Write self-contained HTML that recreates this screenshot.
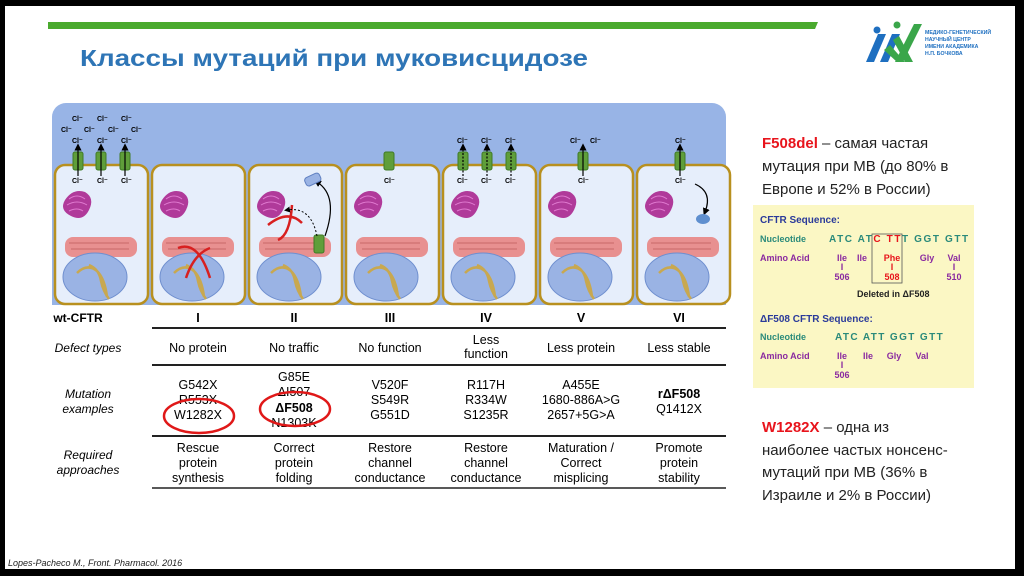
<!DOCTYPE html>
<html><head><meta charset="utf-8"><style>
html,body{margin:0;padding:0;background:#000;}
svg{display:block}
text{font-family:"Liberation Sans",Arial,sans-serif}
</style></head><body>
<svg width="1024" height="576" viewBox="0 0 1024 576" xmlns="http://www.w3.org/2000/svg">
<rect x="0" y="0" width="1024" height="576" fill="#000"/>
<rect x="5" y="6" width="1010" height="563" fill="#fff"/>
<polygon points="48,22 818,22 815,29 48,29" fill="#4aaa2e"/>
<text x="80" y="66" font-size="23" fill="#2e75b6" font-weight="bold" font-family="Liberation Sans Narrow, Liberation Sans, sans-serif" textLength="508" lengthAdjust="spacingAndGlyphs">Классы   мутаций   при   муковисцидозе</text>
<polygon points="866,62 878,34 886,34 874,62" fill="#1e6fc0"/>
<polygon points="880,62 892,34 900,34 888,62" fill="#1e6fc0"/>
<polygon points="884,50 897,62 905,62 890,45" fill="#3aa64a"/>
<polygon points="893,40 905,62 913,62 899,36" fill="#3aa64a"/>
<polygon points="895,62 914,24 922,24 903,62" fill="#3aa64a"/>
<circle cx="877" cy="30" r="3.5" fill="#1e6fc0"/><circle cx="897" cy="25" r="3.5" fill="#3aa64a"/>
<g font-size="5.2" fill="#1e6fc0" font-weight="bold">
<text x="925" y="34">МЕДИКО-ГЕНЕТИЧЕСКИЙ</text><text x="925" y="41">НАУЧНЫЙ ЦЕНТР</text><text x="925" y="48">ИМЕНИ АКАДЕМИКА</text><text x="925" y="55">Н.П. БОЧКОВА</text></g>

<defs>
<marker id="ah" markerWidth="6" markerHeight="6" refX="3" refY="3" orient="auto"><path d="M0,0 L6,3 L0,6z" fill="#000"/></marker>
<g id="cell">
<rect x="0" y="0" width="93" height="139" rx="10" fill="#e6eefb" stroke="#b8901f" stroke-width="2.5"/>
<path d="M10,35 q8,-12 20,-8 q10,6 4,18 q-6,12 -18,6 q-12,-6 -6,-16z" fill="#b03a9a"/>
<path d="M14,34 q8,-6 16,0 M12,40 q10,-6 20,0 M14,46 q8,-4 14,0" stroke="#e07ad0" stroke-width="1" fill="none"/>
<rect x="10" y="72" width="72" height="20" rx="8" fill="#e89090"/>
<path d="M14,78 h60 M16,84 h58" stroke="#c86868" stroke-width="1"/>
<ellipse cx="40" cy="112" rx="32" ry="24" fill="#9ab3e4" stroke="#6f8fcf" stroke-width="1"/>
<path d="M22,108 q10,-10 20,-2 q8,8 10,26 M34,100 q10,4 12,16 q2,10 8,18" stroke="#c8a850" stroke-width="2.5" fill="none"/>
</g>
<g id="ch"><rect x="-5" y="-9" width="10" height="18" rx="2" fill="#5f9e3a" stroke="#3f7a25" stroke-width="1"/></g>
</defs>
<rect x="52" y="103" width="674" height="200" rx="14" fill="#98b4e6"/>
<rect x="52" y="150" width="674" height="155" fill="#98b4e6"/>
<use href="#cell" x="55" y="165"/>
<use href="#cell" x="152" y="165"/>
<use href="#cell" x="249" y="165"/>
<use href="#cell" x="346" y="165"/>
<use href="#cell" x="443" y="165"/>
<use href="#cell" x="540" y="165"/>
<use href="#cell" x="637" y="165"/>
<use href="#ch" x="78" y="161"/><use href="#ch" x="101" y="161"/><use href="#ch" x="125" y="161"/>
<use href="#ch" x="389" y="161"/>
<use href="#ch" x="463" y="161"/><use href="#ch" x="487" y="161"/><use href="#ch" x="511" y="161"/>
<use href="#ch" x="583" y="161"/>
<use href="#ch" x="680" y="161"/>
<use href="#ch" x="319" y="244"/>
<g stroke="#000" stroke-width="1.2" marker-end="url(#ah)">
<path d="M78,176 V147"/><path d="M101,176 V147"/><path d="M125,176 V147"/><path d="M583,176 V147"/><path d="M680,176 V147"/>
<path d="M463,176 V147" stroke-dasharray="2,1.5"/><path d="M487,176 V147" stroke-dasharray="2,1.5"/><path d="M511,176 V147" stroke-dasharray="2,1.5"/>
</g>
<g font-size="7" font-weight="bold" fill="#000">
<text x="72" y="121">Cl⁻</text><text x="97" y="121">Cl⁻</text><text x="121" y="121">Cl⁻</text>
<text x="61" y="132">Cl⁻</text><text x="84" y="132">Cl⁻</text><text x="108" y="132">Cl⁻</text><text x="131" y="132">Cl⁻</text>
<text x="72" y="143">Cl⁻</text><text x="97" y="143">Cl⁻</text><text x="121" y="143">Cl⁻</text>
<text x="72" y="183">Cl⁻</text><text x="97" y="183">Cl⁻</text><text x="121" y="183">Cl⁻</text>
<text x="384" y="183">Cl⁻</text>
<text x="457" y="143">Cl⁻</text><text x="481" y="143">Cl⁻</text><text x="505" y="143">Cl⁻</text>
<text x="457" y="183">Cl⁻</text><text x="481" y="183">Cl⁻</text><text x="505" y="183">Cl⁻</text>
<text x="570" y="143">Cl⁻</text><text x="590" y="143">Cl⁻</text><text x="578" y="183">Cl⁻</text>
<text x="675" y="143">Cl⁻</text><text x="675" y="183">Cl⁻</text>
</g>
<path d="M178,248 q20,-8 32,30 M210,248 q-16,6 -24,30" stroke="#d82020" stroke-width="2.5" fill="none"/>
<path d="M292,205 q-2,30 -14,35 M268,225 q20,-16 34,-2" stroke="#d82020" stroke-width="2.5" fill="none"/>
<path d="M317,236 q-6,-30 -30,-26" stroke="#000" stroke-width="1" stroke-dasharray="2,2" fill="none" marker-end="url(#ah)"/>
<path d="M325,236 q14,-40 -8,-54" stroke="#000" stroke-width="1.2" fill="none" marker-end="url(#ah)"/>
<rect x="305" y="175" width="16" height="9" rx="3" fill="#9ab3e4" stroke="#5f7fc0" transform="rotate(-25 313 180)"/>
<path d="M695,184 q18,8 10,28" stroke="#000" stroke-width="1.2" fill="none" marker-end="url(#ah)"/>
<ellipse cx="703" cy="219" rx="7" ry="5" fill="#5f8fcf"/>

<g font-size="12.5" fill="#000" text-anchor="middle">
<text x="78" y="322" font-weight="bold" font-size="12">wt-CFTR</text>
<text x="198" y="322" font-weight="bold">I</text><text x="294" y="322" font-weight="bold">II</text><text x="390" y="322" font-weight="bold">III</text>
<text x="486" y="322" font-weight="bold">IV</text><text x="581" y="322" font-weight="bold">V</text><text x="679" y="322" font-weight="bold">VI</text>
<text x="88" y="352" font-style="italic" font-size="12">Defect types</text>
<text x="198" y="352">No protein</text><text x="294" y="352">No traffic</text><text x="390" y="352">No function</text>
<text x="486" y="344">Less</text><text x="486" y="358">function</text>
<text x="581" y="352">Less protein</text><text x="679" y="352">Less stable</text>
<text x="88" y="398" font-style="italic" font-size="12">Mutation</text><text x="88" y="413" font-style="italic" font-size="12">examples</text>
<text x="198" y="389">G542X</text><text x="198" y="404">R553X</text><text x="198" y="419">W1282X</text>
<text x="294" y="381">G85E</text><text x="294" y="396">ΔI507</text><text x="294" y="412" font-weight="bold">ΔF508</text><text x="294" y="427">N1303K</text>
<text x="390" y="389">V520F</text><text x="390" y="404">S549R</text><text x="390" y="419">G551D</text>
<text x="486" y="389">R117H</text><text x="486" y="404">R334W</text><text x="486" y="419">S1235R</text>
<text x="581" y="389">A455E</text><text x="581" y="404">1680-886A&gt;G</text><text x="581" y="419">2657+5G&gt;A</text>
<text x="679" y="398" font-weight="bold">rΔF508</text><text x="679" y="413">Q1412X</text>
<text x="88" y="459" font-style="italic" font-size="12">Required</text><text x="88" y="474" font-style="italic" font-size="12">approaches</text>
<text x="198" y="452">Rescue</text><text x="198" y="467">protein</text><text x="198" y="482">synthesis</text>
<text x="294" y="452">Correct</text><text x="294" y="467">protein</text><text x="294" y="482">folding</text>
<text x="390" y="452">Restore</text><text x="390" y="467">channel</text><text x="390" y="482">conductance</text>
<text x="486" y="452">Restore</text><text x="486" y="467">channel</text><text x="486" y="482">conductance</text>
<text x="581" y="452">Maturation /</text><text x="581" y="467">Correct</text><text x="581" y="482">misplicing</text>
<text x="679" y="452">Promote</text><text x="679" y="467">protein</text><text x="679" y="482">stability</text>
</g>
<g stroke="#222"><path d="M152,328 H726" stroke-width="2"/><path d="M152,365 H726" stroke-width="2"/><path d="M152,436 H726" stroke-width="2"/><path d="M152,488 H726" stroke-width="1.5"/></g>
<ellipse cx="199" cy="416" rx="35" ry="17" fill="none" stroke="#e01818" stroke-width="2.5"/>
<ellipse cx="295" cy="409" rx="35" ry="17" fill="none" stroke="#e01818" stroke-width="2.5"/>

<g font-size="15" fill="#222">
<text x="762" y="148"><tspan fill="#e8141c" font-weight="bold">F508del</tspan> – самая частая</text>
<text x="762" y="171">мутация при МВ (до 80% в</text>
<text x="762" y="194">Европе и 52% в России)</text>
<text x="762" y="432"><tspan fill="#e8141c" font-weight="bold">W1282X</tspan> – одна из</text>
<text x="762" y="455">наиболее частых нонсенс-</text>
<text x="762" y="477">мутаций при МВ (36% в</text>
<text x="762" y="500">Израиле и 2% в России)</text>
</g>
<rect x="753" y="205" width="221" height="183" fill="#fbf7c4"/>
<g font-size="9" font-weight="bold">
<text x="760" y="223" fill="#2a3a9a" font-size="10">CFTR Sequence:</text>
<text x="760" y="242" fill="#2a8a7a">Nucleotide</text>
<text x="829" y="242" fill="#2a8a7a" font-size="10" letter-spacing="1.6">ATC AT<tspan fill="#e8141c">C TT</tspan>T GGT GTT</text>
<text x="760" y="261" fill="#8a2aa0">Amino Acid</text>
<g fill="#8a2aa0" text-anchor="middle">
<text x="842" y="261">Ile</text><text x="862" y="261">Ile</text><text x="892" y="261" fill="#e8141c">Phe</text><text x="927" y="261">Gly</text><text x="954" y="261">Val</text>
<text x="842" y="270">I</text><text x="892" y="270" fill="#e8141c">I</text><text x="954" y="270">I</text>
<text x="842" y="280">506</text><text x="892" y="280" fill="#e8141c">508</text><text x="954" y="280">510</text>
<text x="842" y="359">Ile</text><text x="868" y="359">Ile</text><text x="894" y="359">Gly</text><text x="922" y="359">Val</text>
<text x="842" y="368">I</text><text x="842" y="378">506</text>
</g>
<rect x="872" y="234" width="30" height="49" fill="none" stroke="#555" stroke-width="0.8"/>
<text x="857" y="297" fill="#222">Deleted in ΔF508</text>
<text x="760" y="322" fill="#2a3a9a" font-size="10">ΔF508 CFTR Sequence:</text>
<text x="760" y="340" fill="#2a8a7a">Nucleotide</text>
<text x="835" y="340" fill="#2a8a7a" font-size="10" letter-spacing="1.4">ATC ATT GGT GTT</text>
<text x="760" y="359" fill="#8a2aa0">Amino Acid</text>
</g>
<text x="8" y="566" font-size="9" font-style="italic" fill="#222">Lopes-Pacheco M., Front. Pharmacol. 2016</text>
</svg>
</body></html>
